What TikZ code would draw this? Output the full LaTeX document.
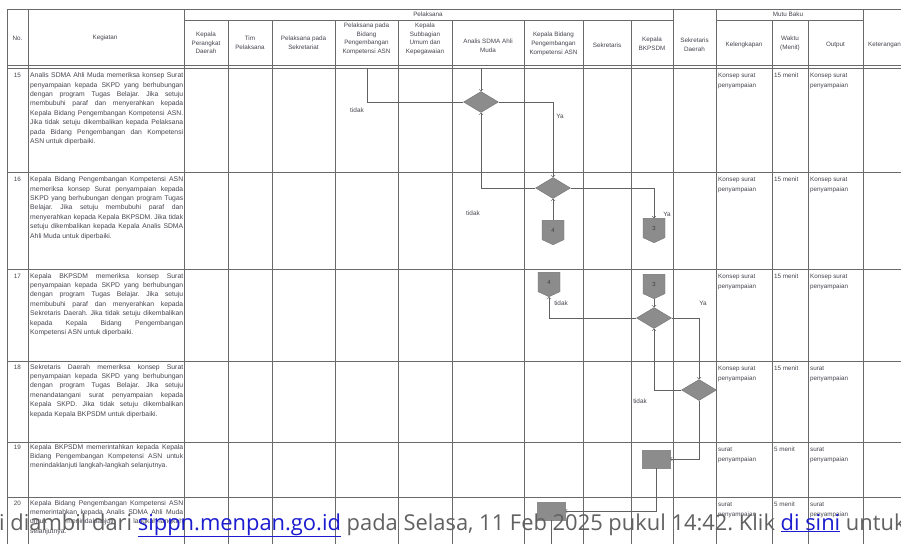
\documentclass[tikz,border=0pt]{standalone}
\usepackage{fontspec}
\setmainfont{Liberation Sans}
\newfontfamily\bannerfont{Open Sans}
\usetikzlibrary{shapes.geometric,shapes.symbols}
\definecolor{ruleline}{HTML}{6A6A6A}
\definecolor{flowfill}{HTML}{8C8C8C}
\definecolor{inktext}{HTML}{45464F}
\definecolor{linkblue}{HTML}{1B1BD0}
\frenchspacing
\newcommand{\kegfont}{\fontsize{6.8}{9.4}\selectfont}
\newcommand{\headfont}{\fontsize{6.3}{8.7}\selectfont}
\newcommand{\mutufont}{\fontsize{6.3}{9.8}\selectfont}
\newcommand{\konsep}{Konsep surat\\penyampaian}
\newcommand{\suratpeny}{surat\\penyampaian}

\begin{document}
\begin{tikzpicture}[x=1pt,y=-1pt]
  \tikzset{
    rule/.style={draw=ruleline,line width=0.7pt},
    headcell/.style={font=\headfont,align=center,text=inktext,inner sep=0pt},
    kegcell/.style={font=\kegfont,text width=153pt,align=justify,anchor=north west,inner sep=0pt,text=inktext},
    numcell/.style={font=\headfont,anchor=base,inner sep=0pt,text=inktext},
    mutucell/.style={font=\mutufont,align=left,anchor=north west,inner sep=0pt,text=inktext},
    decision/.style={diamond,draw=black!55,fill=flowfill,minimum width=35pt,minimum height=21pt,inner sep=0pt},
    offpage/.style={signal,signal to=south,signal pointer angle=130,draw=black!55,fill=flowfill,
      minimum width=22pt,minimum height=20pt,inner sep=0pt,font=\fontsize{6}{7}\selectfont,text=black!75},
    process/.style={rectangle,draw=black!45,fill=flowfill,minimum width=28pt,minimum height=18pt,inner sep=0pt},
    flow/.style={draw=black!62,line width=0.6pt,->},
    branch/.style={font=\fontsize{6.4}{7}\selectfont,text=inktext,inner sep=0pt}
  }
  \useasboundingbox (0,0) rectangle (901,544);
  \fill[white] (0,0) rectangle (901,544);
  \clip (0,0) rectangle (901,544);

  % table rules
  \draw[rule] (7,9) -- (901,9);
  \draw[rule] (184,20) -- (673,20) (716,20) -- (863,20);
  \draw[rule] (7,65) -- (901,65) (7,68) -- (901,68);
  \draw[rule] (7,172) -- (901,172) (7,269) -- (901,269) (7,361) -- (901,361)
    (7,442) -- (901,442) (7,497) -- (901,497);
  \draw[rule] (7,9) -- (7,544) (28,9) -- (28,544) (184,9) -- (184,544)
    (673,9) -- (673,544) (716,9) -- (716,544) (863,9) -- (863,544);
  \draw[rule] (228,20) -- (228,544) (272,20) -- (272,544) (335,20) -- (335,544)
    (398,20) -- (398,544) (452,20) -- (452,544) (524,20) -- (524,544)
    (583,20) -- (583,544) (631,20) -- (631,544) (772,20) -- (772,544)
    (808,20) -- (808,544);

  % header
  \node[headcell] (hNo) at (17.5,38) {No.};
  \node[headcell] (hKeg) at (105,38) {Kegiatan};
  \node[headcell] (hPelaksana) at (428,14.5) {Pelaksana};
  \node[headcell] (hMutu) at (788,14.5) {Mutu Baku};
  \node[headcell] (hKpd) at (206,43) {Kepala\\Perangkat\\Daerah};
  \node[headcell] (hTim) at (250,43) {Tim\\Pelaksana};
  \node[headcell] (hSekre) at (303.5,43) {Pelaksana pada\\Sekretariat};
  \node[headcell] (hBidang) at (366.5,39) {Pelaksana pada\\Bidang\\Pengembangan\\Kompetensi ASN};
  \node[headcell] (hSubbag) at (425,39) {Kepala\\Subbagian\\Umum dan\\Kepegawaian};
  \node[headcell] (hAnalis) at (488,46) {Analis SDMA Ahli\\Muda};
  \node[headcell] (hKabid) at (553.5,44) {Kepala Bidang\\Pengembangan\\Kompetensi ASN};
  \node[headcell] (hSekretaris) at (607,45) {Sekretaris};
  \node[headcell] (hKaban) at (652,44) {Kepala\\BKPSDM};
  \node[headcell] (hSekda) at (694.5,44.5) {Sekretaris\\Daerah};
  \node[headcell] (hLengkap) at (744,45) {Kelengkapan};
  \node[headcell] (hWaktu) at (790,43.5) {Waktu\\(Menit)};
  \node[headcell] (hOutput) at (835.5,45) {Output};
  \node[headcell,anchor=west] (hKet) at (868,45) {Keterangan};

  % rows
  \node[numcell] (no15) at (17.5,77.5) {15};
  \node[kegcell] (keg15) at (30,72.5) {Analis SDMA Ahli Muda memeriksa konsep Surat\linebreak
    penyampaian kepada SKPD yang berhubungan\linebreak dengan program Tugas Belajar. Jika setuju\linebreak
    membubuhi paraf dan menyerahkan kepada\linebreak Kepala Bidang Pengembangan Kompetensi ASN.\linebreak
    Jika tidak setuju dikembalikan kepada Pelaksana\linebreak pada Bidang Pengembangan dan Kompetensi\linebreak
    ASN untuk diperbaiki.};
  \node[numcell] (no16) at (17.5,181.5) {16};
  \node[kegcell] (keg16) at (30,176.5) {Kepala Bidang Pengembangan Kompetensi ASN\linebreak
    memeriksa konsep Surat penyampaian kepada\linebreak SKPD yang berhubungan dengan program Tugas\linebreak
    Belajar. Jika setuju membubuhi paraf dan\linebreak menyerahkan kepada Kepala BKPSDM. Jika tidak\linebreak
    setuju dikembalikan kepada Kepala Analis SDMA\linebreak Ahli Muda untuk diperbaiki.};
  \node[numcell] (no17) at (17.5,278) {17};
  \node[kegcell] (keg17) at (30,273) {Kepala BKPSDM memeriksa konsep Surat\linebreak
    penyampaian kepada SKPD yang berhubungan\linebreak dengan program Tugas Belajar. Jika setuju\linebreak
    membubuhi paraf dan menyerahkan kepada\linebreak Sekretaris Daerah. Jika tidak setuju dikembalikan\linebreak
    kepada Kepala Bidang Pengembangan\linebreak Kompetensi ASN untuk diperbaiki.};
  \node[numcell] (no18) at (17.5,369) {18};
  \node[kegcell] (keg18) at (30,364) {Sekretaris Daerah memeriksa konsep Surat\linebreak
    penyampaian kepada SKPD yang berhubungan\linebreak dengan program Tugas Belajar. Jika setuju\linebreak
    menandatangani surat penyampaian kepada\linebreak Kepala SKPD. Jika tidak setuju dikembalikan\linebreak
    kepada Kepala BKPSDM untuk diperbaiki.};
  \node[numcell] (no19) at (17.5,449) {19};
  \node[kegcell] (keg19) at (30,444) {Kepala BKPSDM memerintahkan kepada Kepala\linebreak
    Bidang Pengembangan Kompetensi ASN untuk\linebreak menindaklanjuti langkah-langkah selanjutnya.};
  \node[numcell] (no20) at (17.5,505) {20};
  \node[kegcell] (keg20) at (30,500) {Kepala Bidang Pengembangan Kompetensi ASN\linebreak
    memerintahkan kepada Analis SDMA Ahli Muda\linebreak untuk menindaklanjuti langkah-langkah\linebreak
    selanjutnya.};

  % mutu baku
  \node[mutucell] (lengkap15) at (718,73) {\konsep};
  \node[mutucell] (waktu15) at (774,73) {15 menit};
  \node[mutucell] (output15) at (810,73) {\konsep};
  \node[mutucell] (lengkap16) at (718,177) {\konsep};
  \node[mutucell] (waktu16) at (774,177) {15 menit};
  \node[mutucell] (output16) at (810,177) {\konsep};
  \node[mutucell] (lengkap17) at (718,274) {\konsep};
  \node[mutucell] (waktu17) at (774,274) {15 menit};
  \node[mutucell] (output17) at (810,274) {\konsep};
  \node[mutucell] (lengkap18) at (718,366) {\konsep};
  \node[mutucell] (waktu18) at (774,366) {15 menit};
  \node[mutucell] (output18) at (810,366) {\suratpeny};
  \node[mutucell] (lengkap19) at (718,447) {\suratpeny};
  \node[mutucell] (waktu19) at (774,447) {5 menit};
  \node[mutucell] (output19) at (810,447) {\suratpeny};
  \node[mutucell] (lengkap20) at (718,502) {\suratpeny};
  \node[mutucell] (waktu20) at (774,502) {5 menit};
  \node[mutucell] (output20) at (810,502) {\suratpeny};

  % flow
  \coordinate (in15) at (481,68);
  \coordinate (back15) at (367,68);
  \coordinate (down20) at (551,544);
  \node[decision] (dec15) at (481,102) {};
  \node[decision] (dec16) at (553,188) {};
  \node[offpage] (off4a) at (553,230) {4};
  \node[offpage] (off3a) at (654,228) {3};
  \node[offpage] (off4b) at (549,282) {4};
  \node[offpage] (off3b) at (654,284) {3};
  \node[decision] (dec17) at (654,318) {};
  \node[decision] (dec18) at (699,390) {};
  \node[process] (box19) at (656,459) {};
  \node[process] (box20) at (551,511) {};

  \draw[flow] (in15) -- (dec15.north);
  \draw[flow,-] (dec15.west) -| (back15);
  \draw[flow] (dec15.east) -| (dec16.north);
  \draw[flow] (dec16.west) -| (dec15.south);
  \draw[flow] (dec16.east) -| (off3a.north);
  \draw[flow] (off4a.north) -- (dec16.south);
  \draw[flow] (off3b.south) -- (dec17.north);
  \draw[flow] (dec17.west) -| (off4b.south);
  \draw[flow] (dec17.east) -| (dec18.north);
  \draw[flow] (dec18.west) -| (dec17.south);
  \draw[flow] (dec18.south) |- (box19.east);
  \draw[flow] (box19.south) |- (box20.east);
  \draw[flow,-] (box20.south) -- (down20);

  \node[branch] (tidak15) at (357,110) {tidak};
  \node[branch] (ya15) at (560,116) {Ya};
  \node[branch] (tidak16) at (473,213) {tidak};
  \node[branch] (ya16) at (667,214) {Ya};
  \node[branch] (tidak17) at (561,303) {tidak};
  \node[branch] (ya17) at (703,303) {Ya};
  \node[branch] (tidak18) at (640,401) {tidak};

  % banner
  \node[anchor=base west,inner sep=0pt,font=\bannerfont\fontsize{21.9}{24}\selectfont,text=black!62]
    (banner) at (-1,530) {i diambil dari \textcolor{linkblue}{\underline{sippn.menpan.go.id}} pada Selasa,
    11 Feb 2025 pukul 14:42. Klik \textcolor{linkblue}{\underline{di sini}} untuk};
\end{tikzpicture}
\end{document}
